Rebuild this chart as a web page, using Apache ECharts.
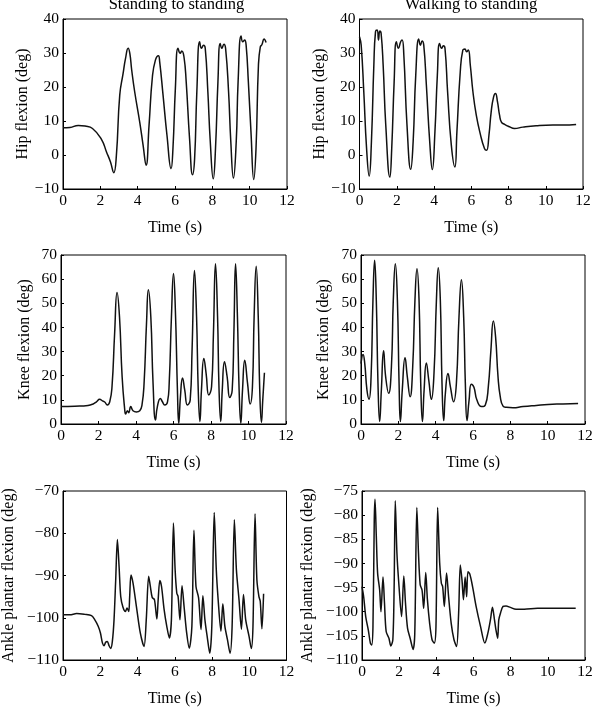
<!DOCTYPE html>
<html>
<head>
<meta charset="utf-8">
<script src="https://cdn.jsdelivr.net/npm/echarts@6/dist/echarts.min.js"></script>
<style>
html,body{margin:0;padding:0;background:#fff;}
#c{width:596px;height:708px;}
</style>
</head>
<body>
<div id="c"></div>
<script>
// ---- Data (time in s, angle in deg) ----
const xTicks = [0, 2, 4, 6, 8, 10, 12];
const titles = ['Standing to standing', 'Walking to standing'];

const tHipStand = [0, 0.37, 0.82, 1.18, 1.58, 2.06, 2.33, 2.54, 2.72, 2.86, 3.04, 3.22, 3.35, 3.49, 3.58, 3.68, 3.84, 4.11, 4.29, 4.45, 4.61, 4.79, 4.95, 5.11, 5.18, 5.36, 5.57, 5.79, 5.89, 6.02, 6.16, 6.28, 6.36, 6.48, 6.6, 6.78, 6.94, 7.05, 7.17, 7.32, 7.42, 7.53, 7.62, 7.76, 7.89, 8.05, 8.17, 8.3, 8.42, 8.51, 8.62, 8.71, 8.87, 8.99, 9.13, 9.28, 9.38, 9.54, 9.63, 9.73, 9.81, 9.93, 10.07, 10.22, 10.34, 10.47, 10.57, 10.66, 10.77, 10.88];
const vHipStand = [8.0, 8.1, 8.7, 8.5, 7.8, 4.6, 0.9, -2.0, -5.2, -0.1, 17.6, 24, 28.4, 31.4, 29.9, 25, 18.6, 9.7, 2.9, -3.0, 8.8, 23, 27.9, 29.2, 27.4, 17.6, 5.8, -4.0, 1.9, 19.6, 31.4, 29.9, 30.6, 28.9, 21.5, 4.8, -5.8, -1.1, 18.6, 33.3, 31.4, 32.3, 31.4, 18.6, 3.9, -7.0, 1.9, 21.5, 32.8, 31.4, 32.6, 31.4, 18.6, 3.9, -6.8, 3.9, 21.5, 35, 33.3, 33.8, 32.3, 21.5, 6.8, -7.2, 1.9, 26.4, 31.8, 32.5, 34.1, 33.1];

const tHipWalk = [0, 0.09, 0.23, 0.38, 0.52, 0.64, 0.77, 0.86, 0.95, 1.02, 1.09, 1.16, 1.27, 1.41, 1.63, 1.73, 1.86, 1.98, 2.09, 2.21, 2.29, 2.38, 2.55, 2.75, 2.88, 3.02, 3.18, 3.27, 3.36, 3.45, 3.59, 3.77, 3.91, 4.05, 4.18, 4.3, 4.41, 4.5, 4.59, 4.73, 4.93, 5.12, 5.23, 5.41, 5.55, 5.66, 5.75, 5.84, 5.95, 6.09, 6.27, 6.48, 6.71, 6.82, 6.95, 7.07, 7.2, 7.3, 7.41, 7.52, 7.62, 7.79, 8.05, 8.32, 8.77, 9.48, 10.38, 10.91, 11.63];
const vHipWalk = [34.8, 32.3, 18.6, 1.9, -6.2, 3.9, 26.4, 36.3, 36.8, 33.8, 36.5, 35.8, 26.4, 8.8, -6.5, 1.9, 21.5, 33.3, 31.4, 33.3, 33.8, 29.4, 8.8, -4.2, 3.9, 23.5, 34.1, 32.3, 33.5, 32.3, 20.6, 3.9, -4.3, 6.8, 23.5, 32.8, 31.4, 32.1, 31.4, 18.6, 2.9, -3.5, 6.8, 24.5, 30.9, 31.2, 30.4, 30.9, 26.4, 18.6, 11.7, 6.3, 1.9, 1.4, 5.8, 12.7, 17.1, 18.1, 15.6, 11.7, 9.7, 9.0, 8.3, 7.8, 8.2, 8.6, 8.8, 8.8, 9.0];

const tKneeStand = [0, 0.73, 1.44, 1.71, 1.89, 2.06, 2.21, 2.33, 2.47, 2.6, 2.72, 2.86, 2.99, 3.12, 3.26, 3.4, 3.45, 3.54, 3.61, 3.72, 3.84, 4.02, 4.2, 4.32, 4.43, 4.56, 4.66, 4.79, 4.91, 5.04, 5.14, 5.3, 5.41, 5.53, 5.68, 5.77, 5.89, 6.0, 6.1, 6.21, 6.28, 6.37, 6.48, 6.6, 6.74, 6.89, 6.99, 7.12, 7.23, 7.32, 7.41, 7.49, 7.62, 7.74, 7.88, 8.03, 8.13, 8.24, 8.35, 8.43, 8.52, 8.6, 8.72, 8.86, 9.0, 9.13, 9.22, 9.31, 9.41, 9.5, 9.59, 9.68, 9.8, 9.95, 10.09, 10.21, 10.3, 10.41, 10.52, 10.6, 10.69, 10.76, 10.85];
const vKneeStand = [7.2, 7.4, 7.7, 8.3, 9.2, 10.2, 9.6, 9.1, 7.9, 9.2, 15.4, 37.5, 54.5, 44.4, 19.6, 5.8, 4.1, 5.5, 4.7, 7.2, 5.5, 5.0, 5.5, 7.9, 16.8, 41.6, 55.6, 44.4, 16.8, 1.7, 7.2, 10.6, 9.2, 7.9, 9.2, 16.8, 44.4, 62.3, 47.1, 14.0, 0.3, 11.3, 19.1, 14.0, 7.9, 9.9, 30.6, 63.6, 44.4, 14.0, 1.0, 14.0, 27.1, 20.9, 12.0, 15.4, 37.5, 66.4, 44.4, 14.0, 1.0, 14.0, 25.8, 19.6, 11.0, 14.0, 37.5, 66.4, 44.4, 14.0, 0.3, 14.0, 26.4, 16.8, 8.3, 15.4, 44.4, 65.3, 44.4, 14.0, 0.7, 9.9, 21.2];

const tKneeWalk = [0, 0.11, 0.2, 0.32, 0.43, 0.54, 0.64, 0.73, 0.82, 0.91, 1.0, 1.09, 1.21, 1.32, 1.48, 1.63, 1.73, 1.84, 1.95, 2.04, 2.11, 2.21, 2.36, 2.48, 2.63, 2.77, 2.89, 3.0, 3.11, 3.2, 3.29, 3.38, 3.5, 3.63, 3.77, 3.91, 4.04, 4.14, 4.25, 4.34, 4.43, 4.52, 4.66, 4.79, 4.96, 5.11, 5.25, 5.38, 5.5, 5.59, 5.68, 5.79, 5.91, 6.05, 6.21, 6.45, 6.66, 6.82, 6.96, 7.09, 7.21, 7.34, 7.46, 7.61, 7.79, 8.14, 8.68, 9.39, 10.02, 10.82, 11.63];
const vKneeWalk = [25.0, 28.8, 25.1, 14.0, 10.3, 19.6, 51.2, 67.8, 51.2, 16.8, 1.0, 14.0, 30.3, 19.6, 12.7, 23.7, 51.2, 66.4, 51.2, 16.8, 1.0, 14.0, 27.4, 19.6, 11.3, 23.7, 51.2, 64.3, 51.2, 16.8, 1.0, 14.0, 25.3, 18.2, 10.2, 20.9, 51.2, 64.7, 51.2, 16.8, 1.4, 12.7, 20.9, 15.4, 9.2, 16.8, 44.4, 59.8, 44.4, 16.8, 1.4, 9.9, 16.5, 15.2, 9.9, 7.2, 7.9, 15.4, 30.6, 42.7, 36.1, 19.6, 11.3, 7.4, 6.9, 6.7, 7.2, 7.7, 8.1, 8.3, 8.5];

const tAnkleStand = [0, 0.37, 0.73, 1.17, 1.53, 1.71, 1.89, 2.01, 2.12, 2.21, 2.29, 2.38, 2.47, 2.56, 2.65, 2.74, 2.83, 2.92, 3.01, 3.1, 3.22, 3.35, 3.44, 3.53, 3.58, 3.65, 3.76, 3.94, 4.15, 4.35, 4.47, 4.6, 4.69, 4.79, 4.91, 5.04, 5.11, 5.2, 5.29, 5.43, 5.57, 5.71, 5.82, 5.93, 6.02, 6.11, 6.18, 6.28, 6.39, 6.5, 6.64, 6.78, 6.92, 7.03, 7.14, 7.28, 7.41, 7.51, 7.62, 7.74, 7.88, 7.99, 8.12, 8.23, 8.33, 8.48, 8.58, 8.69, 8.83, 8.97, 9.08, 9.2, 9.31, 9.45, 9.58, 9.69, 9.81, 9.99, 10.11, 10.2, 10.31, 10.41, 10.52, 10.59, 10.68, 10.77];
const vAnkleStand = [-99.3, -99.3, -99.0, -99.2, -99.5, -100.5, -102.0, -103.6, -106.0, -106.6, -105.8, -105.6, -106.6, -107.3, -105.6, -100.5, -91, -81.5, -87.8, -95, -97.5, -98.5, -97.7, -98.5, -95, -89.9, -91.8, -97.3, -103.6, -106.8, -100.5, -90.2, -92.6, -95.2, -95.7, -100.3, -95.7, -91.2, -92.6, -98.1, -102.0, -104.8, -100.5, -77.6, -88.6, -94.2, -95, -100.5, -92.4, -97.3, -103.6, -107.2, -102.0, -79.3, -92.6, -95.3, -102.8, -94.8, -100.5, -104.4, -108.4, -102.0, -75.1, -88.6, -95.7, -103.2, -96.7, -102.0, -105.2, -108.4, -102.0, -76.8, -88.6, -95.7, -102.7, -94.5, -100.5, -104.4, -107.3, -102.0, -75.4, -91.0, -95, -96.1, -102.6, -94.3];

const tAnkleWalk = [0, 0.09, 0.2, 0.34, 0.45, 0.52, 0.59, 0.66, 0.7, 0.77, 0.84, 0.95, 1.02, 1.13, 1.21, 1.3, 1.45, 1.55, 1.66, 1.73, 1.79, 1.88, 1.98, 2.13, 2.25, 2.34, 2.45, 2.59, 2.75, 2.84, 2.95, 3.04, 3.13, 3.23, 3.32, 3.43, 3.52, 3.64, 3.77, 3.89, 3.98, 4.07, 4.18, 4.27, 4.34, 4.43, 4.55, 4.66, 4.8, 4.95, 5.09, 5.2, 5.29, 5.38, 5.46, 5.55, 5.63, 5.7, 5.8, 5.95, 6.14, 6.38, 6.61, 6.77, 6.91, 7.02, 7.13, 7.21, 7.3, 7.36, 7.45, 7.59, 7.75, 7.98, 8.29, 8.73, 9.45, 10.52, 11.5];
const vAnkleWalk = [-94.8, -96.9, -101.0, -103.8, -106.5, -106.9, -103.1, -80.9, -76.7, -84.4, -92.0, -95.5, -100.0, -92.8, -98.2, -104.1, -105.5, -107.1, -105.8, -94.8, -77.0, -87.9, -94.1, -101.0, -92.6, -98.2, -103.4, -105.5, -107.8, -104.5, -78.4, -87.9, -94.4, -95.5, -99.3, -91.9, -97.5, -102.4, -105.8, -106.5, -103.1, -78.4, -89.9, -94.1, -94.8, -98.9, -92.0, -96.9, -102.4, -105.8, -107.2, -100.3, -90.3, -93.4, -97.5, -92.8, -96.9, -91.7, -92.2, -94.8, -98.9, -103.1, -106.5, -104.5, -101.7, -99.1, -101.7, -103.8, -105.5, -101.7, -100.3, -98.9, -98.8, -99.1, -99.5, -99.5, -99.3, -99.3, -99.3];

// ---- Panels ----
const FONT = '"Liberation Serif", "DejaVu Serif", serif';
const panels = [
  {t: tHipStand,   v: vHipStand,   name: 'Hip flexion (deg)',           min: -10,  max: 40,  step: 10, grid: {left: 63,  top: 19,  width: 224, height: 170}, gap: 30, smooth: 0.5},
  {t: tHipWalk,    v: vHipWalk,    name: 'Hip flexion (deg)',           min: -10,  max: 40,  step: 10, grid: {left: 359.5, top: 19, width: 223.5, height: 170}, gap: 28, smooth: 0.5},
  {t: tKneeStand,  v: vKneeStand,  name: 'Knee flexion (deg)',          min: 0,    max: 70,  step: 10, grid: {left: 61,  top: 255, width: 225, height: 169}, gap: 28, smooth: 0.5},
  {t: tKneeWalk,   v: vKneeWalk,   name: 'Knee flexion (deg)',          min: 0,    max: 70,  step: 10, grid: {left: 361, top: 255, width: 224, height: 169}, gap: 29, smooth: 0.5},
  {t: tAnkleStand, v: vAnkleStand, name: 'Ankle plantar flexion (deg)', min: -110, max: -70, step: 10, grid: {left: 62,  top: 491, width: 224.5, height: 169}, gap: 46, smooth: 0.3},
  {t: tAnkleWalk,  v: vAnkleWalk,  name: 'Ankle plantar flexion (deg)', min: -110, max: -75, step: 5,  grid: {left: 362, top: 491, width: 223, height: 169}, gap: 46, smooth: 0.3}
];

const minus = v => String(v).replace(/-/g, '\u2212');

const option = {
  backgroundColor: '#fff',
  animation: false,
  grid: panels.map(p => Object.assign({show: true, borderColor: '#000', borderWidth: 1, backgroundColor: 'transparent'}, p.grid)),
  xAxis: panels.map((p, i) => ({
    type: 'value', gridIndex: i, min: xTicks[0], max: xTicks[xTicks.length - 1], interval: xTicks[1] - xTicks[0],
    name: 'Time (s)', nameLocation: 'middle', nameGap: 31,
    nameTextStyle: {fontFamily: FONT, fontSize: 16, color: '#000'},
    axisLine: {show: true, onZero: false, lineStyle: {color: '#000', width: 1}},
    axisTick: {show: true, inside: true, length: 3, lineStyle: {color: '#000'}},
    axisLabel: {fontFamily: FONT, fontSize: 15.5, color: '#000', margin: 4},
    splitLine: {show: false}
  })),
  yAxis: panels.map((p, i) => ({
    type: 'value', gridIndex: i, min: p.min, max: p.max, interval: p.step,
    name: p.name, nameLocation: 'middle', nameGap: p.gap, nameRotate: 90,
    nameTextStyle: {fontFamily: FONT, fontSize: 16, color: '#000'},
    axisLine: {show: true, onZero: false, lineStyle: {color: '#000', width: 1}},
    axisTick: {show: true, inside: true, length: 3, lineStyle: {color: '#000'}},
    axisLabel: {fontFamily: FONT, fontSize: 15.5, color: '#000', margin: 4, formatter: minus},
    splitLine: {show: false}
  })),
  series: panels.map((p, i) => ({
    type: 'line', xAxisIndex: i, yAxisIndex: i,
    data: p.t.map((x, k) => [x, p.v[k]]),
    showSymbol: false, smooth: p.smooth,
    lineStyle: {color: '#111', width: 1.5},
    clip: true
  })),
  graphic: [
    {type: 'text', x: 176.5, y: 5, style: {text: titles[0], fontFamily: FONT, fontSize: 16.5, fill: '#000', align: 'center', verticalAlign: 'middle'}},
    {type: 'text', x: 471, y: 5, style: {text: titles[1], fontFamily: FONT, fontSize: 16.5, fill: '#000', align: 'center', verticalAlign: 'middle'}}
  ]
};

const chart = echarts.init(document.getElementById('c'), null, {renderer: 'canvas'});
chart.setOption(option);
</script>
</body>
</html>
